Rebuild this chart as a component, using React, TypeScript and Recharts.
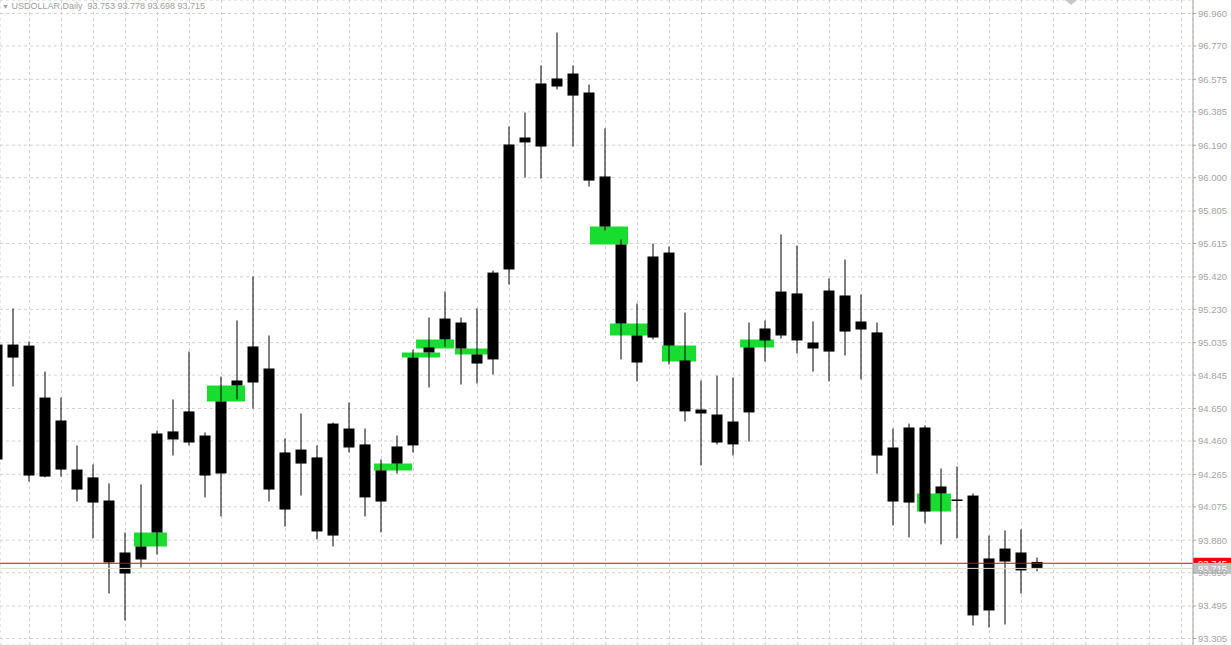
import { ComposedChart, Bar, XAxis, YAxis, CartesianGrid, ReferenceArea, ReferenceLine } from 'recharts';

// daily USDOLLAR candles; index -1 is the one cut by the left edge
const firstIndex = -1;

const opens = [
  94.352, 95.024, 95.018, 94.252, 94.58, 94.293, 94.247, 94.112, 93.685, 93.767,
  93.925, 94.516, 94.451, 94.492, 94.27, 94.785, 94.802, 94.884, 94.393, 94.328,
  94.364, 93.907, 94.533, 94.44, 94.106, 94.328, 94.434, 94.978, 95.054, 95.153,
  94.966, 94.937, 95.463, 96.206, 96.182, 96.533, 96.609, 96.498, 96.007, 95.609,
  95.077, 95.065, 95.562, 94.931, 94.644, 94.615, 94.44, 94.627, 95.048, 95.077,
  95.323, 95.036, 94.983, 95.311, 95.112, 95.095, 94.422, 94.1, 94.539, 94.153,
  94.118, 94.141, 93.469, 93.755, 93.808, 93.753,
];
const highs = [
  95.06, 95.235, 95.042, 94.866, 94.714, 94.434, 94.323, 94.212, 93.925, 94.206,
  94.521, 94.703, 94.983, 94.51, 94.837, 95.165, 95.422, 95.077, 94.475, 94.621,
  94.434, 94.568, 94.685, 94.533, 94.352, 94.492, 94.995, 95.182, 95.334, 95.182,
  95.235, 95.457, 96.299, 96.381, 96.656, 96.849, 96.656, 96.545, 96.288, 95.638,
  95.264, 95.615, 95.597, 95.211, 94.814, 94.843, 94.831, 95.153, 95.165, 95.668,
  95.603, 95.159, 95.41, 95.521, 95.317, 95.153, 94.533, 94.562, 94.551, 94.299,
  94.311, 94.153, 93.907, 93.937, 93.943, 93.778,
];
const lows = [
  94.3, 94.779, 94.223, 94.247, 94.252, 94.106, 93.89, 93.568, 93.41, 93.72,
  93.796, 94.375, 94.434, 94.13, 94.019, 94.703, 94.65, 94.106, 93.96, 94.141,
  93.884, 93.843, 94.393, 94.019, 93.925, 94.27, 94.393, 94.773, 95.013, 94.79,
  94.796, 94.849, 95.375, 96.001, 95.995, 96.516, 96.182, 95.948, 95.691, 94.937,
  94.808, 95.054, 94.907, 94.574, 94.317, 94.44, 94.375, 94.457, 94.925, 95.059,
  94.972, 94.866, 94.808, 94.96, 94.82, 94.27, 93.966, 93.896, 93.978, 93.855,
  93.89, 93.381, 93.369, 93.387, 93.568, 93.698,
];
const closes = [
  95.024, 94.948, 94.258, 94.714, 94.293, 94.176, 94.1, 93.75, 93.808, 93.843,
  94.504, 94.469, 94.633, 94.258, 94.691, 94.814, 95.013, 94.176, 94.059, 94.41,
  93.931, 94.562, 94.422, 94.13, 94.288, 94.428, 94.948, 95.007, 95.176, 95.001,
  94.913, 95.445, 96.194, 96.235, 96.551, 96.58, 96.48, 95.983, 95.714, 95.147,
  94.919, 95.539, 95.018, 94.633, 94.621, 94.451, 94.574, 95.007, 95.118, 95.334,
  95.048, 95.001, 95.34, 95.1, 95.159, 94.375, 94.106, 94.539, 94.048, 94.194,
  94.112, 93.44, 93.773, 93.831, 93.703, 93.715,
];

// green zones drawn behind the candles (candle-index span, price span)
const zoneStarts = [7.53, 12.09, 22.53, 24.28, 25.16, 27.59, 36.03, 37.28, 40.53, 45.41, 56.47];
const zoneEnds = [9.59, 14.47, 24.91, 26.66, 27.54, 29.67, 38.41, 39.66, 42.66, 47.53, 58.59];
const zoneTops = [93.925, 94.785, 94.328, 94.978, 95.054, 95.001, 95.714, 95.147, 95.018, 95.054, 94.153];
const zoneBottoms = [93.843, 94.691, 94.288, 94.948, 95.001, 94.966, 95.609, 95.077, 94.925, 95.007, 94.048];

const priceTicks = [
  96.96, 96.77, 96.575, 96.385, 96.19, 96.0, 95.805, 95.615, 95.42, 95.23,
  95.035, 94.845, 94.65, 94.46, 94.265, 94.075, 93.88, 93.69, 93.495, 93.305,
];

// a dashed vertical grid line sits on every second candle
const gridIndexes = Array.from({ length: 37 }, (_, n) => 1 + n * 2);

const askPrice = 93.745;
const symbol = 'USDOLLAR,Daily';

const candles = opens.map((open, n) => ({
  i: n + firstIndex,
  open,
  high: highs[n],
  low: lows[n],
  close: closes[n],
  range: [lows[n], highs[n]],
}));

const lastCandle = candles[candles.length - 1];

const GREY = '#a4a4a4';
const FONT = '"Liberation Sans", Arial, sans-serif';

function Candle(props: any) {
  const { x, y, width, height, payload } = props;
  if (!payload || height == null) return null;
  const cx = x + width / 2;
  const perUnit = height / (payload.high - payload.low);
  const top = y + (payload.high - Math.max(payload.open, payload.close)) * perUnit;
  const bottom = y + (payload.high - Math.min(payload.open, payload.close)) * perUnit;
  return (
    <g>
      <line x1={cx} x2={cx} y1={y} y2={y + height} stroke="#000" strokeWidth={1} />
      <rect x={cx - 5.5} y={top} width={11} height={Math.max(bottom - top, 1.5)} fill="#000" />
    </g>
  );
}

function PriceTag({ viewBox, value, fill }: any) {
  if (!viewBox) return null;
  const left = viewBox.x + viewBox.width;
  return (
    <g>
      <rect x={left} y={viewBox.y - 5.5} width={38} height={11} fill={fill} />
      <text
        x={left + 5}
        y={viewBox.y + 4}
        fill="#fff"
        fontSize={9.5}
        fontFamily={FONT}
      >
        {value.toFixed(3)}
      </text>
    </g>
  );
}

export default function App() {
  return (
    <div style={{ position: 'absolute', left: 0, top: 0, width: 1231, height: 645, background: '#fff' }}>
      <ComposedChart
        width={1231}
        height={645}
        data={candles}
        margin={{ top: 0, right: 0, bottom: 0, left: 0 }}
      >
        <CartesianGrid stroke="#d2d2d2" strokeDasharray="3 3" />
        <XAxis
          dataKey="i"
          type="number"
          domain={[-0.84375, 73.71875]}
          ticks={gridIndexes}
          allowDataOverflow
          hide
        />
        <YAxis
          orientation="right"
          width={38}
          domain={[93.267, 97.039]}
          ticks={priceTicks}
          interval={0}
          allowDataOverflow
          tickSize={3}
          tickMargin={2}
          axisLine={{ stroke: GREY }}
          tickLine={{ stroke: GREY }}
          tick={{ fill: GREY, fontSize: 9.5, fontFamily: FONT }}
          tickFormatter={(v: number) => v.toFixed(3)}
        />
        {zoneStarts.map((start, n) => (
          <ReferenceArea
            key={n}
            x1={start}
            x2={zoneEnds[n]}
            y1={zoneBottoms[n]}
            y2={zoneTops[n]}
            fill="#18dc30"
            fillOpacity={1}
            stroke="none"
          />
        ))}
        <Bar
          dataKey="range"
          barSize={11}
          isAnimationActive={false}
          shape={(p: any) => <Candle {...p} />}
        />
        <ReferenceLine
          y={askPrice}
          stroke="#e00000"
          strokeWidth={1}
          label={(p: any) => <PriceTag {...p} value={askPrice} fill="#f00000" />}
        />
        <ReferenceLine
          y={lastCandle.close}
          stroke="#e8d8d0"
          strokeWidth={1}
          label={(p: any) => <PriceTag {...p} value={lastCandle.close} fill="#c0c0c0" />}
        />
      </ComposedChart>
      <div
        style={{
          position: 'absolute',
          left: 2,
          top: 1,
          fontFamily: FONT,
          fontSize: 9,
          lineHeight: '11px',
          color: '#a0a0a0',
          whiteSpace: 'pre',
        }}
      >
        <span style={{ fontSize: 7 }}>▼</span>
        {` ${symbol}  ${lastCandle.open.toFixed(3)} ${lastCandle.high.toFixed(3)} ${lastCandle.low.toFixed(3)} ${lastCandle.close.toFixed(3)}`}
      </div>
      <div
        style={{
          position: 'absolute',
          left: 1065,
          top: 0,
          width: 0,
          height: 0,
          borderLeft: '6px solid transparent',
          borderRight: '6px solid transparent',
          borderTop: '5px solid #c8c8c8',
        }}
      />
    </div>
  );
}
